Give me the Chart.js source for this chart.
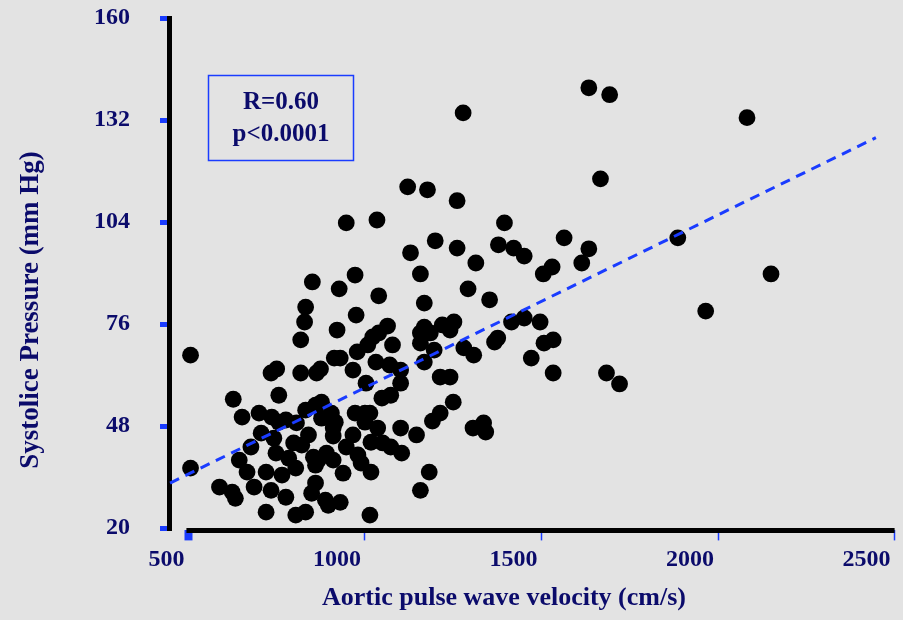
<!DOCTYPE html>
<html>
<head>
<meta charset="utf-8">
<script src="https://cdn.jsdelivr.net/npm/chart.js@4.4.1/dist/chart.umd.min.js"></script>
<style>
  html, body { margin: 0; padding: 0; background: #e3e3e3; }
  #wrap { width: 903px; height: 620px; }
</style>
</head>
<body>
<div id="wrap"><canvas id="chart" width="903" height="620"></canvas></div>
<script>
// aortic PWV (cm/s) and systolic pressure (mm Hg), one entry per subject
const pwv = [
  506, 506, 1278, 1634, 1693, 2082, 1667, 1886, 2150, 1965,
  1121, 1177, 1261, 947, 1034, 1395, 1129, 1199, 1261, 1378,
  1421, 1451, 1564, 1634, 1314, 1505, 1530, 1614, 1157, 1292,
  1353, 1168, 1415, 1451, 1496, 1168, 1185, 1157, 1219, 1252,
  1241, 1280, 1308, 1367, 1376, 1507, 1533, 1196, 1471, 1168,
  1213, 1241, 1533, 1684, 1721, 1250, 1213, 1191, 1101, 1146,
  1073, 1104, 1306, 1336, 1342, 1182, 1157, 1101, 1073, 1101,
  851, 972, 927, 1039, 832, 829, 975, 921, 1064, 818,
  1022, 1039, 1008, 1078, 1157, 978, 913, 930, 966, 1031,
  1070, 1003, 734, 750, 818, 863, 874, 1048,
  627, 756, 877, 860, 832, 652, 700, 736, 756, 776,
  806, 877, 905, 916, 910, 972, 1000, 1014, 1000, 1036,
  706, 742, 840, 910, 966, 677, 798, 821, 748, 784,
  854, 891, 910, 947, 1017, 1050, 980, 989, 1017, 644,
  666, 720, 765, 804, 860, 868, 938, 588, 624, 633,
  686, 734, 776, 860, 849, 888, 896, 930, 720, 804,
  832, 1014
];
const systolic = [
  67.5, 36.5, 134.0, 140.9, 139.0, 132.7, 115.9, 99.7, 89.8, 79.6,
  113.7, 112.9, 109.9, 103.8, 104.6, 103.8, 95.6, 98.9, 96.9, 97.8,
  96.9, 94.7, 99.7, 96.7, 92.8, 89.8, 91.7, 92.8, 89.8, 85.7,
  82.7, 81.8, 76.6, 77.7, 76.6, 75.2, 73.6, 70.8, 75.8, 76.6,
  74.4, 69.5, 67.5, 71.1, 72.2, 70.8, 71.7, 68.9, 66.7, 65.6,
  61.5, 61.5, 62.6, 62.6, 59.6, 54.6, 51.6, 49.4, 47.5, 45.6,
  42.3, 40.6, 47.5, 48.9, 46.4, 35.4, 30.4, 59.8, 56.5, 63.4,
  87.6, 89.5, 85.7, 83.8, 80.7, 76.6, 78.5, 74.4, 75.5, 71.7,
  72.5, 73.6, 70.3, 70.3, 73.6, 68.4, 66.7, 66.7, 63.4, 65.6,
  64.8, 59.8, 62.6, 63.7, 62.6, 62.6, 63.7, 55.7,
  55.4, 56.5, 54.6, 53.8, 52.4, 50.5, 51.6, 50.5, 49.1, 49.7,
  48.9, 50.2, 51.6, 49.1, 47.5, 51.6, 51.6, 51.6, 49.1, 47.5,
  46.1, 44.7, 45.6, 45.3, 45.6, 42.3, 43.4, 42.8, 40.6, 39.2,
  39.5, 40.6, 38.7, 42.3, 43.6, 43.4, 40.1, 37.9, 35.4, 38.7,
  35.4, 35.4, 34.6, 36.5, 37.3, 38.7, 35.1, 31.3, 29.9, 28.2,
  31.3, 30.4, 28.5, 32.4, 29.6, 27.7, 26.3, 27.1, 24.4, 23.6,
  24.4, 23.6
];
// regression line end points
const fitPwv = [448, 2447];
const fitSystolic = [32.4, 127.2];

const xTicks = [500, 1000, 1500, 2000, 2500];
const yTicks = [20, 48, 76, 104, 132, 160];
const xTitle = 'Aortic pulse wave velocity (cm/s)';
const yTitle = 'Systolice Pressure (mm Hg)';
const statLines = ['R=0.60', 'p<0.0001'];

const navy = '#0b0b6b';
const blue = '#1a3cff';
const serif = "'Liberation Serif', 'Times New Roman', serif";

// axis line with a gap, axis titles and the R / p box
const extras = {
  id: 'extras',
  afterDraw(chart) {
    const {ctx, chartArea, scales: {x}} = chart;
    ctx.save();
    ctx.strokeStyle = '#000';
    ctx.lineWidth = 5;
    ctx.beginPath();
    ctx.moveTo(x.getPixelForValue(xTicks[0]) - 2, chartArea.bottom);
    ctx.lineTo(chartArea.right, chartArea.bottom);
    ctx.stroke();

    ctx.fillStyle = navy;
    ctx.font = 'bold 26px ' + serif;
    ctx.textAlign = 'center';
    ctx.textBaseline = 'alphabetic';
    ctx.fillText(xTitle, 504, 605);

    ctx.save();
    ctx.translate(38, 310);
    ctx.rotate(-Math.PI / 2);
    ctx.font = 'bold 27px ' + serif;
    ctx.fillText(yTitle, 0, 0);
    ctx.restore();

    ctx.strokeStyle = blue;
    ctx.lineWidth = 1.5;
    ctx.strokeRect(208.5, 75.5, 145, 85);
    ctx.font = 'bold 25px ' + serif;
    ctx.textBaseline = 'middle';
    ctx.fillText(statLines[0], 281, 103);
    ctx.fillText(statLines[1], 281, 135);
    ctx.restore();
  }
};

const tickFont = { family: serif, size: 24, weight: 'bold' };

new Chart(document.getElementById('chart'), {
  type: 'scatter',
  data: {
    datasets: [
      {
        label: 'fit',
        data: fitPwv.map((v, i) => ({ x: v, y: fitSystolic[i] })),
        showLine: true,
        borderColor: blue,
        borderWidth: 3,
        borderDash: [10, 7],
        pointRadius: 0,
        fill: false,
        order: 0
      },
      {
        label: 'subjects',
        data: pwv.map((v, i) => ({ x: v, y: systolic[i] })),
        backgroundColor: '#000',
        borderWidth: 0,
        pointRadius: 8.4,
        order: 1
      }
    ]
  },
  options: {
    responsive: false,
    animation: false,
    layout: { padding: { left: 0, top: 18.2, right: 1, bottom: 0 } },
    plugins: {
      legend: { display: false },
      tooltip: { enabled: false }
    },
    scales: {
      x: {
        type: 'linear',
        min: 445,
        max: 2500,
        afterBuildTicks: s => { s.ticks = xTicks.map(v => ({ value: v })); },
        afterFit: s => {
          s.height = 89.6;
          s.paddingLeft = 0;
          s.paddingRight = 0;
        },
        border: { display: false },
        grid: {
          drawOnChartArea: false,
          tickLength: 10,
          tickWidth: c => (c.tick && c.tick.value === 500 ? 8 : 1.5),
          tickColor: blue
        },
        ticks: {
          color: navy,
          font: tickFont,
          align: 'end',
          labelOffset: -4,
          padding: 5,
          maxRotation: 0,
          autoSkip: false,
          callback: v => String(v)
        }
      },
      y: {
        min: 19.4,
        max: 160,
        afterBuildTicks: s => { s.ticks = yTicks.map(v => ({ value: v })); },
        afterFit: s => {
          s.width = 169;
          s.paddingTop = 0;
          s.paddingBottom = 0;
        },
        border: { display: true, color: '#000', width: 5 },
        grid: {
          drawOnChartArea: false,
          tickLength: 9,
          tickWidth: 5,
          tickColor: blue
        },
        ticks: {
          color: navy,
          font: tickFont,
          padding: 30,
          autoSkip: false,
          callback: v => String(v)
        }
      }
    }
  },
  plugins: [extras]
});
</script>
</body>
</html>
